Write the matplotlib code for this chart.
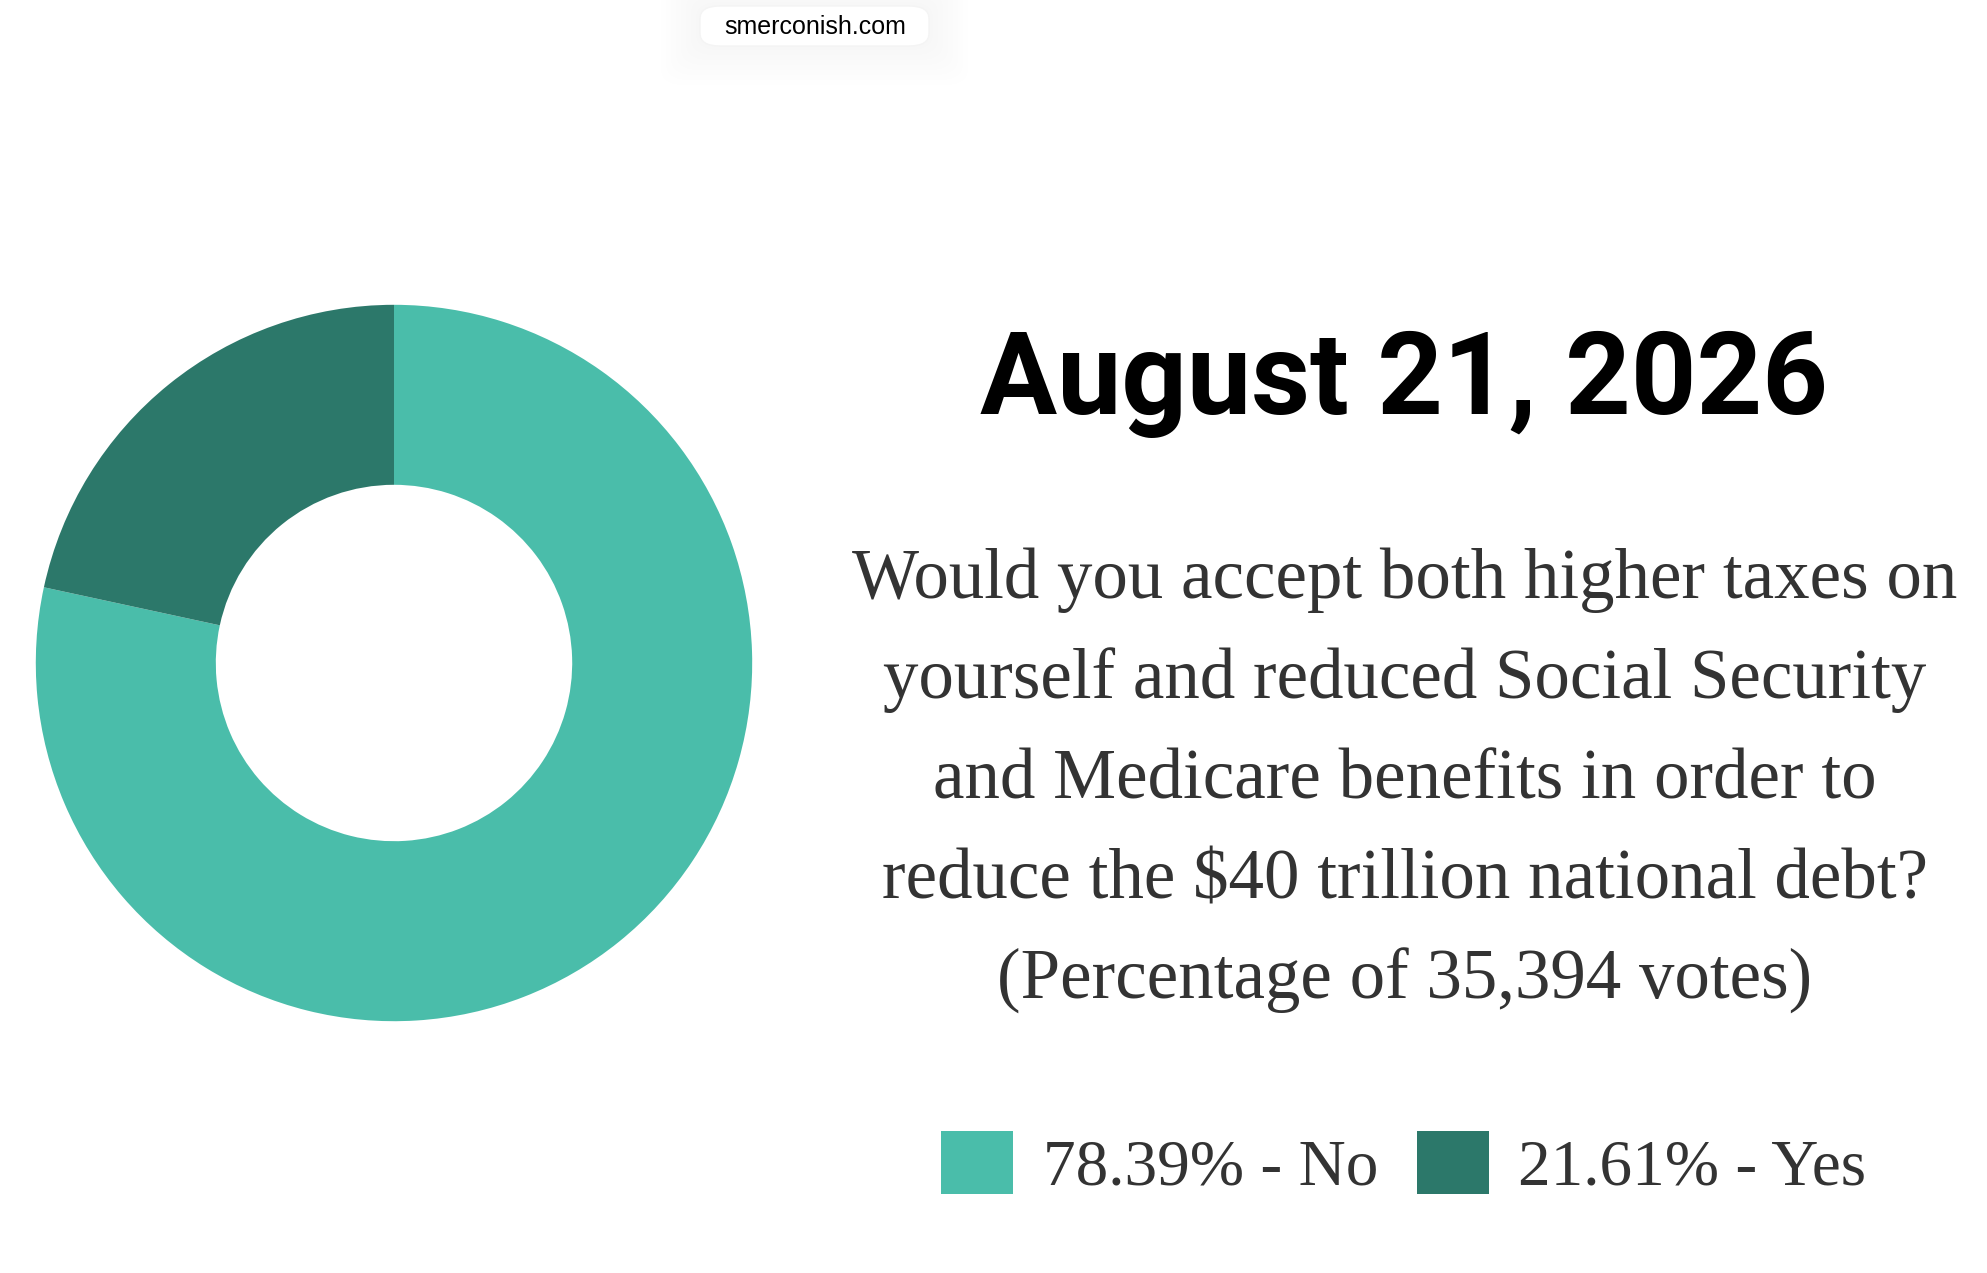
import matplotlib.pyplot as plt
from matplotlib.patches import FancyBboxPatch

# poll data
answers = ['No', 'Yes']
shares = [78.39, 21.61]
colors = ['#4abdaa', '#2c786a']
votes = 35394
poll_date = 'August 21, 2026'
question_lines = [
    'Would you accept both higher taxes on',
    'yourself and reduced Social Security',
    'and Medicare benefits in order to',
    'reduce the $40 trillion national debt?',
    '(Percentage of {:,} votes)'.format(votes),
]

W, H = 1987, 1273
fig = plt.figure(figsize=(W / 100, H / 100), dpi=100)
fig.patch.set_facecolor('white')

# donut
cx, cy, r = 394, 663, 360
ax = fig.add_axes([(cx - r) / W, (H - cy - r) / H, 2 * r / W, 2 * r / H])
wedges, _ = ax.pie(shares, colors=colors, startangle=90, counterclock=False,
                   radius=0.995, wedgeprops=dict(width=0.5, linewidth=0))
ax.set_xlim(-1, 1)
ax.set_ylim(-1, 1)
ax.set_aspect('equal')
ax.axis('off')

# title
fig.text(1404 / W, 1 - 414 / H, poll_date, ha='center', va='baseline',
         fontsize=82.5, fontweight='bold', family='Roboto', color='black')

# question
for i, line in enumerate(question_lines):
    fig.text(1405 / W, 1 - (598 + 100.1 * i) / H, line, ha='center', va='baseline',
             fontsize=51, family='Liberation Serif', color='#333333')

# legend
labels = ['{:.2f}% - {}'.format(s, a) for s, a in zip(shares, answers)]
leg = fig.legend(wedges, labels, loc='center', bbox_to_anchor=(1404 / W, 1 - 1165 / H),
                 ncol=2, frameon=False, handlelength=1.1, handleheight=1.1,
                 handletextpad=0.45, columnspacing=0.6,
                 prop=dict(family='Liberation Serif', size=47))
for t in leg.get_texts():
    t.set_color('#333333')

# site pill at top
for k in range(8):
    grow = 4 + 5 * k
    fig.patches.append(FancyBboxPatch(
        ((700 - grow) / W, 1 - (46 + grow) / H), (229 + 2 * grow) / W, (40 + 2 * grow) / H,
        boxstyle='round,pad=0,rounding_size=0.012', transform=fig.transFigure,
        fc='black', ec='none', alpha=0.005, zorder=0))
fig.patches.append(FancyBboxPatch(
    (700 / W, 1 - 46 / H), 229 / W, 40 / H,
    boxstyle='round,pad=0,rounding_size=0.01', transform=fig.transFigure,
    fc='white', ec='#f4f4f4', lw=1, zorder=1))
fig.text(815 / W, 1 - 27 / H, 'smerconish.com', ha='center', va='center',
         fontsize=18, family='Liberation Sans', color='black', zorder=2)

fig.savefig('out.png', dpi=100)
